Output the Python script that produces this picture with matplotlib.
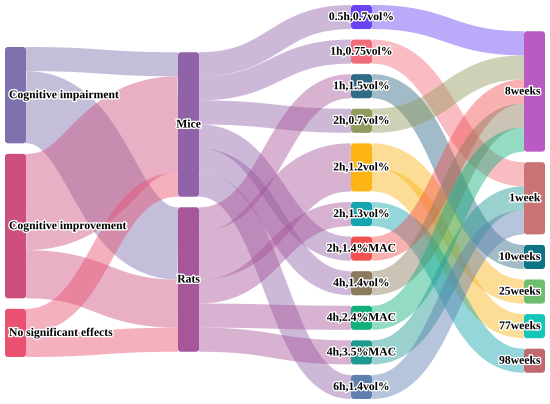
import numpy as np
import matplotlib
matplotlib.use("Agg")
import matplotlib.pyplot as plt
from matplotlib.patches import FancyBboxPatch, Polygon
import matplotlib.patheffects as pe

# ===== 1. Data =====
col_outcome = ["Cognitive impairment", "Cognitive improvement", "No significant effects"]
col_species = ["Mice", "Rats"]
col_exposure = ["0.5h,0.7vol%", "1h,0.75vol%", "1h,1.5vol%", "2h,0.7vol%", "2h,1.2vol%",
                "2h,1.3vol%", "2h,1.4%MAC", "4h,1.4vol%", "4h,2.4%MAC", "4h,3.5%MAC",
                "6h,1.4vol%"]
col_age = ["8weeks", "1week", "10weeks", "25weeks", "77weeks", "98weeks"]

colors = {
    "Cognitive impairment": "#7f70ae", "Cognitive improvement": "#cc4f80",
    "No significant effects": "#ea5070",
    "Mice": "#9062a8", "Rats": "#a8569a",
    "0.5h,0.7vol%": "#6944f2", "1h,0.75vol%": "#f26b7a", "1h,1.5vol%": "#2f6b86",
    "2h,0.7vol%": "#939a5e", "2h,1.2vol%": "#fcb514", "2h,1.3vol%": "#15a5b0",
    "2h,1.4%MAC": "#f25050", "4h,1.4vol%": "#8c7a5c", "4h,2.4%MAC": "#12b07c",
    "4h,3.5%MAC": "#1f9890", "6h,1.4vol%": "#5f7fb0",
    "8weeks": "#b95bc2", "1week": "#c87474", "10weeks": "#0e7385",
    "25weeks": "#6fbd6f", "77weeks": "#14c6b8", "98weeks": "#c06a70",
}

# (source, target, value)
links_outcome_species = [
    ("Cognitive impairment", "Mice", 1), ("Cognitive impairment", "Rats", 3),
    ("Cognitive improvement", "Mice", 4), ("Cognitive improvement", "Rats", 2),
    ("No significant effects", "Mice", 1), ("No significant effects", "Rats", 1),
]
links_species_exposure = [
    ("Mice", "0.5h,0.7vol%", 1), ("Mice", "1h,0.75vol%", 1), ("Mice", "2h,0.7vol%", 1),
    ("Mice", "2h,1.4%MAC", 1), ("Mice", "4h,1.4vol%", 1), ("Mice", "6h,1.4vol%", 1),
    ("Rats", "1h,1.5vol%", 1), ("Rats", "2h,1.2vol%", 2), ("Rats", "2h,1.3vol%", 1),
    ("Rats", "4h,2.4%MAC", 1), ("Rats", "4h,3.5%MAC", 1),
]
links_exposure_age = [
    ("0.5h,0.7vol%", "8weeks", 1), ("1h,0.75vol%", "1week", 1),
    ("1h,1.5vol%", "10weeks", 1), ("2h,0.7vol%", "8weeks", 1),
    ("2h,1.2vol%", "25weeks", 1), ("2h,1.2vol%", "77weeks", 1),
    ("2h,1.3vol%", "98weeks", 1), ("2h,1.4%MAC", "8weeks", 1),
    ("4h,1.4vol%", "8weeks", 1), ("4h,2.4%MAC", "8weeks", 1),
    ("4h,3.5%MAC", "1week", 1), ("6h,1.4vol%", "1week", 1),
]

columns = [col_outcome, col_species, col_exposure, col_age]
links = links_outcome_species + links_species_exposure + links_exposure_age

# ===== 2. Layout =====
W, H = 550, 404
x_left, x_step, node_w = 5, 173, 21
y_top, y_bot, pad = 5, 399, 10.5

outgoing, incoming = {}, {}
for s, t, v in links:
    outgoing[s] = outgoing.get(s, 0) + v
    incoming[t] = incoming.get(t, 0) + v
value = {n: max(outgoing.get(n, 0), incoming.get(n, 0)) for col in columns for n in col}

max_nodes = max(len(c) for c in columns)
total = sum(value[n] for n in columns[0])
ky = (y_bot - y_top - (max_nodes - 1) * pad) / total
y_mid = (y_top + y_bot) / 2

pos = {}
for i, col in enumerate(columns):
    span = sum(value[n] for n in col) * ky + (len(col) - 1) * pad
    y = y_mid - span / 2
    for n in col:
        h = value[n] * ky
        pos[n] = dict(x0=x_left + i * x_step, x1=x_left + i * x_step + node_w,
                      y0=y, y1=y + h, col=i)
        y += h + pad

# link offsets: source side sorted by target y, target side sorted by source y
src_off = {n: pos[n]["y0"] for n in pos}
tgt_off = {n: pos[n]["y0"] for n in pos}
link_geo = {}
for s, t, v in sorted(links, key=lambda l: (pos[l[0]]["y0"], pos[l[1]]["y0"])):
    link_geo[(s, t)] = [src_off[s], None]
    src_off[s] += v * ky
for s, t, v in sorted(links, key=lambda l: (pos[l[1]]["y0"], pos[l[0]]["y0"])):
    link_geo[(s, t)][1] = tgt_off[t]
    tgt_off[t] += v * ky

# ===== 3. Draw =====
fig = plt.figure(figsize=(W / 100, H / 100), dpi=100)
ax = fig.add_axes([0, 0, 1, 1])
ax.set_xlim(0, W)
ax.set_ylim(H, 0)
ax.axis("off")


def band(xa, ya, xb, yb, w):
    # centreline bezier (like d3 sankeyLinkHorizontal), offset by half width
    tt = np.linspace(0, 1, 120)
    xm = (xa + xb) / 2
    bx = (1 - tt) ** 3 * xa + 3 * (1 - tt) ** 2 * tt * xm + 3 * (1 - tt) * tt ** 2 * xm + tt ** 3 * xb
    by = (1 - tt) ** 3 * ya + 3 * (1 - tt) ** 2 * tt * ya + 3 * (1 - tt) * tt ** 2 * yb + tt ** 3 * yb
    dx = np.gradient(bx)
    dy = np.gradient(by)
    nrm = np.hypot(dx, dy)
    nx, ny = -dy / nrm, dx / nrm
    top = np.column_stack([bx + nx * w / 2, by + ny * w / 2])
    bot = np.column_stack([bx - nx * w / 2, by - ny * w / 2])
    return np.vstack([top, bot[::-1]])


for s, t, v in links:
    sy, ty = link_geo[(s, t)]
    w = v * ky
    pts = band(pos[s]["x1"], sy + w / 2, pos[t]["x0"], ty + w / 2, w)
    ax.add_patch(Polygon(pts, closed=True, facecolor=colors[s], alpha=0.45,
                         edgecolor="none", zorder=1))

halo = [pe.withStroke(linewidth=2.0, foreground="white")]
for n, p in pos.items():
    ax.add_patch(FancyBboxPatch((p["x0"], p["y0"]), node_w, p["y1"] - p["y0"],
                                boxstyle="round,pad=0,rounding_size=3",
                                facecolor=colors[n], edgecolor="none", zorder=2))
    yc = (p["y0"] + p["y1"]) / 2
    if p["col"] == 0:
        x, ha = p["x0"] + 4, "left"
    elif p["col"] == len(columns) - 1:
        x, ha = p["x1"] - 5, "right"
    else:
        x, ha = (p["x0"] + p["x1"]) / 2, "center"
    ax.text(x, yc, n, ha=ha, va="center", fontsize=8.4, fontweight="bold",
            family="Liberation Serif", color="black", path_effects=halo, zorder=3)

fig.savefig("out.png", dpi=100)
